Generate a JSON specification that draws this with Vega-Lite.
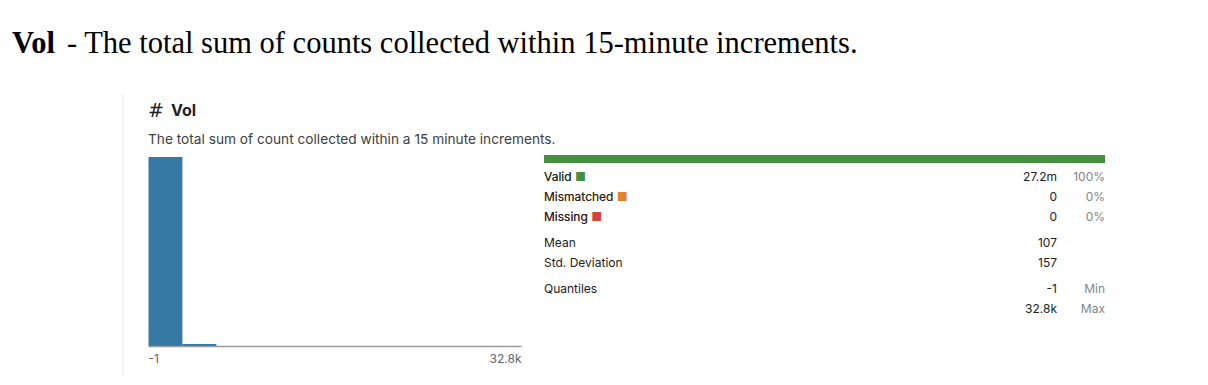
{
  "$schema": "https://vega.github.io/schema/vega-lite/v6.json",
  "padding": {"left": 12, "top": 0, "right": 6, "bottom": 8},
  "background": "white",
  "config": {"view": {"stroke": null}, "font": "Inter"},
  "datasets": {
    "histogram": [
      {"bin_start": -1, "bin_end": 2981, "count": 26900000},
      {"bin_start": 2981, "bin_end": 5963, "count": 280000},
      {"bin_start": 5963, "bin_end": 8945, "count": 9000},
      {"bin_start": 8945, "bin_end": 11927, "count": 2000},
      {"bin_start": 11927, "bin_end": 14909, "count": 600},
      {"bin_start": 14909, "bin_end": 17891, "count": 200},
      {"bin_start": 17891, "bin_end": 20873, "count": 80},
      {"bin_start": 20873, "bin_end": 23855, "count": 30},
      {"bin_start": 23855, "bin_end": 26837, "count": 12},
      {"bin_start": 26837, "bin_end": 29819, "count": 5},
      {"bin_start": 29819, "bin_end": 32800, "count": 3}
    ],
    "stats": [
      {"section": "quality", "key": "valid", "label": "Valid", "value": "27.2m", "share": "100%", "swatch": "#45903f"},
      {"section": "quality", "key": "mismatched", "label": "Mismatched", "value": "0", "share": "0%", "swatch": "#e0832b"},
      {"section": "quality", "key": "missing", "label": "Missing", "value": "0", "share": "0%", "swatch": "#d2443a"},
      {"section": "moments", "key": "mean", "label": "Mean", "value": "107", "share": ""},
      {"section": "moments", "key": "std", "label": "Std. Deviation", "value": "157", "share": ""},
      {"section": "quantiles", "key": "min", "label": "Quantiles", "value": "-1", "share": "Min"},
      {"section": "quantiles", "key": "max", "label": "", "value": "32.8k", "share": "Max"}
    ],
    "card": [
      {"part": "name", "text": "Vol"},
      {"part": "description", "text": "The total sum of count collected within a 15 minute increments."}
    ]
  },
  "bounds": "flush",
  "spacing": 6,
  "vconcat": [
    {
      "width": 1190,
      "height": 88,
      "data": {"values": [{"name": "Vol", "text": "- The total sum of counts collected within 15-minute increments."}]},
      "encoding": {
        "x": {"datum": 0, "type": "quantitative", "scale": {"domain": [0, 1]}, "axis": null},
        "y": {"datum": 0.5, "type": "quantitative", "scale": {"domain": [0, 1]}, "axis": null}
      },
      "layer": [
        {
          "mark": {"type": "text", "font": "Liberation Serif", "fontSize": 30.5, "fontWeight": "bold", "align": "left", "baseline": "middle", "color": "#000000"},
          "encoding": {"text": {"field": "name"}}
        },
        {
          "mark": {"type": "text", "font": "Liberation Serif", "fontSize": 30.5, "fontWeight": "normal", "align": "left", "baseline": "middle", "color": "#000000", "dx": 55},
          "encoding": {"text": {"field": "text"}}
        }
      ]
    },
    {
      "bounds": "flush",
      "spacing": 25,
      "hconcat": [
        {
          "width": 111,
          "height": 282,
          "data": {"values": [{"edge": 1}]},
          "mark": {"type": "rule", "color": "#e8e8e8", "strokeWidth": 1},
          "encoding": {
            "x": {"field": "edge", "type": "quantitative", "scale": {"domain": [0, 1]}, "axis": null}
          }
        },
        {
          "bounds": "flush",
          "spacing": 8,
          "vconcat": [
            {
              "width": 957,
              "height": 53,
              "data": {"name": "card"},
              "encoding": {
                "x": {"datum": 0, "type": "quantitative", "scale": {"domain": [0, 1]}, "axis": null},
                "y": {"field": "part", "type": "nominal", "scale": {"type": "point", "domain": ["name", "description"], "range": [16.5, 45.5], "padding": 0}, "axis": null}
              },
              "layer": [
                {
                  "transform": [{"filter": "datum.part == 'name'"}],
                  "mark": {"type": "text", "text": "#", "font": "DejaVu Sans", "fontSize": 19, "fontWeight": "normal", "align": "left", "baseline": "middle", "color": "#202124"}
                },
                {
                  "transform": [{"filter": "datum.part == 'name'"}],
                  "mark": {"type": "text", "font": "Inter", "fontSize": 16, "fontWeight": "bold", "align": "left", "baseline": "middle", "color": "#202124", "dx": 23},
                  "encoding": {"text": {"field": "text"}}
                },
                {
                  "transform": [{"filter": "datum.part == 'description'"}],
                  "mark": {"type": "text", "font": "Inter", "fontSize": 13.7, "fontWeight": "normal", "align": "left", "baseline": "middle", "color": "#3c4043"},
                  "encoding": {"text": {"field": "text"}}
                }
              ]
            },
            {
              "bounds": "flush",
              "spacing": 23,
              "hconcat": [
                {
                  "width": 373,
                  "height": 191,
                  "data": {"name": "histogram"},
                  "mark": {"type": "bar", "color": "#3679a5", "binSpacing": 0},
                  "encoding": {
                    "x": {
                      "field": "bin_start", "type": "quantitative", "bin": "binned",
                      "scale": {"domain": [-1, 32800], "nice": false, "zero": false},
                      "axis": {
                        "values": [-1, 32800],
                        "labelExpr": "datum.value == -1 ? '-1' : '32.8k'",
                        "labelFlush": true, "ticks": false, "grid": false, "title": null,
                        "domainColor": "#9a9a9a", "domainWidth": 1.5,
                        "labelColor": "#5f6368", "labelFontSize": 12, "labelFont": "Inter",
                        "labelPadding": 7, "zindex": 1
                      }
                    },
                    "x2": {"field": "bin_end"},
                    "y": {"field": "count", "type": "quantitative", "scale": {"domain": [0, 27200000], "nice": false}, "axis": null}
                  }
                },
                {
                  "bounds": "flush",
                  "spacing": 4,
                  "vconcat": [
                    {
                      "width": 561,
                      "height": 8,
                      "data": {"values": [{"status": "Valid", "count": 27200000}]},
                      "mark": {"type": "bar", "color": "#45903f"},
                      "encoding": {
                        "x": {"field": "count", "type": "quantitative", "scale": {"domain": [0, 27200000], "nice": false}, "axis": null},
                        "y": {"field": "status", "type": "nominal", "scale": {"paddingInner": 0, "paddingOuter": 0}, "axis": null}
                      }
                    },
                    {
                      "bounds": "flush",
                      "spacing": 6,
                      "vconcat": [
                        {
                          "width": 561,
                          "height": 60,
                          "data": {"name": "stats"},
                          "transform": [{"filter": "datum.section == 'quality'"}, {"calculate": "datum.label + ' \u25a0'", "as": "legend"}],
                          "encoding": {
                            "y": {"field": "key", "type": "nominal", "scale": {"type": "point", "domain": ["valid", "mismatched", "missing"], "padding": 0.5}, "axis": null}
                          },
                          "layer": [
                            {
                              "mark": {"type": "text", "font": "Inter", "fontSize": 12, "fontWeight": "normal", "align": "left", "baseline": "middle"},
                              "encoding": {
                                "text": {"field": "legend"},
                                "color": {"field": "swatch", "type": "nominal", "scale": null},
                                "x": {"datum": 0, "type": "quantitative", "scale": {"domain": [0, 1]}, "axis": null}
                              }
                            },
                            {
                              "mark": {"type": "text", "font": "Inter", "fontSize": 12, "fontWeight": "normal", "align": "left", "baseline": "middle", "color": "#202124"},
                              "encoding": {
                                "text": {"field": "label"},
                                "x": {"datum": 0, "type": "quantitative", "scale": {"domain": [0, 1]}, "axis": null}
                              }
                            },
                            {
                              "mark": {"type": "text", "font": "Inter", "fontSize": 12, "fontWeight": "normal", "align": "right", "baseline": "middle", "color": "#202124"},
                              "encoding": {
                                "text": {"field": "value"},
                                "x": {"datum": 0.9144, "type": "quantitative", "scale": {"domain": [0, 1]}, "axis": null}
                              }
                            },
                            {
                              "mark": {"type": "text", "font": "Inter", "fontSize": 12, "fontWeight": "normal", "align": "right", "baseline": "middle", "color": "#80868b"},
                              "encoding": {
                                "text": {"field": "share"},
                                "x": {"datum": 1, "type": "quantitative", "scale": {"domain": [0, 1]}, "axis": null}
                              }
                            }
                          ]
                        },
                        {
                          "width": 561,
                          "height": 40,
                          "data": {"name": "stats"},
                          "transform": [{"filter": "datum.section == 'moments'"}],
                          "encoding": {
                            "y": {"field": "key", "type": "nominal", "scale": {"type": "point", "domain": ["mean", "std"], "padding": 0.5}, "axis": null}
                          },
                          "layer": [
                            {
                              "mark": {"type": "text", "font": "Inter", "fontSize": 12, "fontWeight": "normal", "align": "left", "baseline": "middle", "color": "#202124"},
                              "encoding": {
                                "text": {"field": "label"},
                                "x": {"datum": 0, "type": "quantitative", "scale": {"domain": [0, 1]}, "axis": null}
                              }
                            },
                            {
                              "mark": {"type": "text", "font": "Inter", "fontSize": 12, "fontWeight": "normal", "align": "right", "baseline": "middle", "color": "#202124"},
                              "encoding": {
                                "text": {"field": "value"},
                                "x": {"datum": 0.9144, "type": "quantitative", "scale": {"domain": [0, 1]}, "axis": null}
                              }
                            }
                          ]
                        },
                        {
                          "width": 561,
                          "height": 40,
                          "data": {"name": "stats"},
                          "transform": [{"filter": "datum.section == 'quantiles'"}],
                          "encoding": {
                            "y": {"field": "key", "type": "nominal", "scale": {"type": "point", "domain": ["min", "max"], "padding": 0.5}, "axis": null}
                          },
                          "layer": [
                            {
                              "mark": {"type": "text", "font": "Inter", "fontSize": 12, "fontWeight": "normal", "align": "left", "baseline": "middle", "color": "#202124"},
                              "encoding": {
                                "text": {"field": "label"},
                                "x": {"datum": 0, "type": "quantitative", "scale": {"domain": [0, 1]}, "axis": null}
                              }
                            },
                            {
                              "mark": {"type": "text", "font": "Inter", "fontSize": 12, "fontWeight": "normal", "align": "right", "baseline": "middle", "color": "#202124"},
                              "encoding": {
                                "text": {"field": "value"},
                                "x": {"datum": 0.9144, "type": "quantitative", "scale": {"domain": [0, 1]}, "axis": null}
                              }
                            },
                            {
                              "mark": {"type": "text", "font": "Inter", "fontSize": 12, "fontWeight": "normal", "align": "right", "baseline": "middle", "color": "#80868b"},
                              "encoding": {
                                "text": {"field": "share"},
                                "x": {"datum": 1, "type": "quantitative", "scale": {"domain": [0, 1]}, "axis": null}
                              }
                            }
                          ]
                        }
                      ]
                    }
                  ]
                }
              ]
            }
          ]
        }
      ]
    }
  ]
}
